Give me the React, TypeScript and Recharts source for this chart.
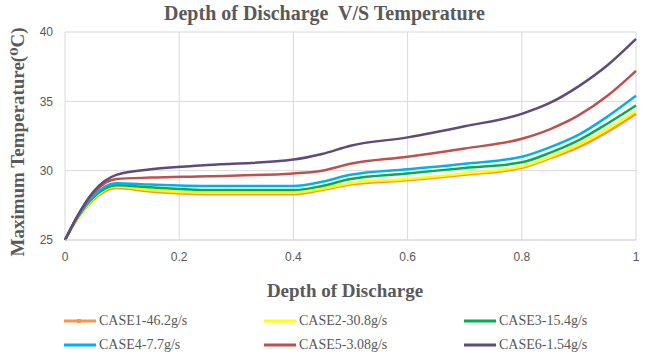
import React from "react";
import { LineChart, Line, XAxis, YAxis, CartesianGrid } from "recharts";

// depth of discharge sample points
const dod = [0, 0.02, 0.05, 0.09, 0.15, 0.25, 0.4, 0.45, 0.5, 0.6, 0.7, 0.8, 0.85, 0.9, 0.95, 1];

const case1 = [25, 26.4, 27.9, 28.75, 28.5, 28.3, 28.3, 28.6, 29.0, 29.3, 29.7, 30.2, 30.9, 31.7, 32.8, 34.1];
const case2 = [25, 26.4, 28.0, 28.85, 28.6, 28.4, 28.4, 28.7, 29.1, 29.4, 29.8, 30.3, 31.0, 31.9, 33.0, 34.3];
const case3 = [25, 26.5, 28.1, 28.95, 28.8, 28.6, 28.6, 28.9, 29.4, 29.8, 30.2, 30.6, 31.3, 32.2, 33.4, 34.7];
const case4 = [25, 26.5, 28.2, 29.1, 29.0, 28.9, 28.9, 29.2, 29.7, 30.1, 30.5, 31.0, 31.7, 32.6, 33.9, 35.4];
const case5 = [25, 26.6, 28.4, 29.4, 29.5, 29.6, 29.8, 30.0, 30.5, 31.0, 31.6, 32.3, 33.0, 34.0, 35.4, 37.2];
const case6 = [25, 26.6, 28.5, 29.7, 30.1, 30.4, 30.8, 31.2, 31.8, 32.4, 33.2, 34.1, 34.9, 36.1, 37.6, 39.5];

const xTicks = [0, 0.2, 0.4, 0.6, 0.8, 1];
const yTicks = [25, 30, 35, 40];

const series = [
  { key: "c1", name: "CASE1-46.2g/s", color: "#F79646", values: case1 },
  { key: "c2", name: "CASE2-30.8g/s", color: "#FFFF00", values: case2 },
  { key: "c3", name: "CASE3-15.4g/s", color: "#00B050", values: case3 },
  { key: "c4", name: "CASE4-7.7g/s", color: "#00B0F0", values: case4 },
  { key: "c5", name: "CASE5-3.08g/s", color: "#C0504D", values: case5 },
  { key: "c6", name: "CASE6-1.54g/s", color: "#604A7B", values: case6 },
];

const data = dod.map((x, i) => {
  const row: any = { x };
  series.forEach((s) => (row[s.key] = s.values[i]));
  return row;
});

const gray = "#595959";
const serif = "'Liberation Serif', 'DejaVu Serif', serif";
const tickFont = "'Liberation Sans Narrow', 'Liberation Sans', Roboto, sans-serif";

function LegendBox() {
  return (
    <div
      style={{
        position: "absolute",
        top: 312,
        left: 63,
        display: "grid",
        gridTemplateColumns: "200px 200px 200px",
        rowGap: 6,
        fontFamily: serif,
        fontSize: 14,
        color: gray,
      }}
    >
      {series.map((s, i) => (
        <div key={s.key} style={{ display: "flex", alignItems: "center", height: 18 }}>
          <svg width={34} height={8} style={{ marginRight: 2 }}>
            <line x1={1} y1={4} x2={33} y2={4} stroke={s.color} strokeWidth={3} />
            {i === 0 && <rect x={14} y={2} width={4} height={4} fill={s.color} />}
          </svg>
          <span>{s.name}</span>
        </div>
      ))}
    </div>
  );
}

export default function App() {
  return (
    <div style={{ position: "absolute", left: 0, top: 0, width: 649, height: 358, background: "#fff" }}>
      <div
        style={{
          position: "absolute",
          top: 2,
          left: 0,
          width: 649,
          textAlign: "center",
          fontFamily: serif,
          fontWeight: "bold",
          fontSize: 20,
          color: gray,
          whiteSpace: "pre",
        }}
      >
        {"Depth of Discharge  V/S Temperature"}
      </div>
      <div
        style={{
          position: "absolute",
          left: 17,
          top: 142,
          transform: "translate(-50%, -50%) rotate(-90deg)",
          fontFamily: serif,
          fontWeight: "bold",
          fontSize: 19,
          color: gray,
          whiteSpace: "nowrap",
        }}
      >
        Maximum Temperature(⁰C)
      </div>
      <div
        style={{
          position: "absolute",
          top: 280,
          left: 0,
          width: 690,
          textAlign: "center",
          fontFamily: serif,
          fontWeight: "bold",
          fontSize: 19,
          color: gray,
        }}
      >
        Depth of Discharge
      </div>
      <LineChart
        width={649}
        height={358}
        data={data}
        margin={{ top: 32, right: 13, left: 35, bottom: 0 }}
        style={{ position: "absolute", left: 0, top: 0 }}
      >
        <CartesianGrid stroke="#d9d9d9" />
        <XAxis
          dataKey="x"
          type="number"
          domain={[0, 1]}
          ticks={xTicks}
          tickFormatter={(v) => String(v)}
          tick={{ fill: gray, fontSize: 12, fontFamily: tickFont }}
          tickLine={false}
          axisLine={{ stroke: "#d9d9d9" }}
          height={118}
          tickMargin={6}
        />
        <YAxis
          type="number"
          domain={[25, 40]}
          ticks={yTicks}
          width={30}
          tick={{ fill: gray, fontSize: 12, fontFamily: tickFont }}
          tickLine={false}
          axisLine={false}
          tickMargin={6}
        />
        {series.map((s) => (
          <Line
            key={s.key}
            type="monotone"
            dataKey={s.key}
            name={s.name}
            stroke={s.color}
            strokeWidth={2.5}
            dot={false}
            isAnimationActive={false}
          />
        ))}
      </LineChart>
      <LegendBox />
    </div>
  );
}
